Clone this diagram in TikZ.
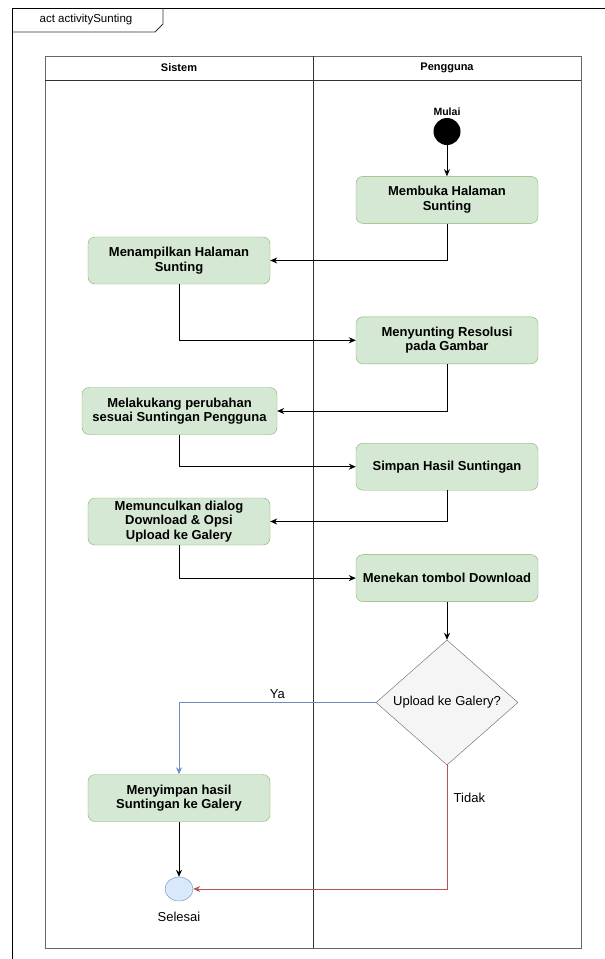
\documentclass[tikz,border=0pt]{standalone}
\usepackage{fontspec}
\setmainfont{Liberation Sans}
\usetikzlibrary{arrows.meta,positioning,shapes.geometric}
\definecolor{actgreen}{HTML}{D5E8D4}
\definecolor{actline}{HTML}{82B366}
\definecolor{endblue}{HTML}{DAE8FC}
\definecolor{yaline}{HTML}{6C8EBF}
\definecolor{tidakline}{HTML}{B85450}
\definecolor{decfill}{HTML}{F5F5F5}
\definecolor{decline}{HTML}{666666}
\definecolor{laneline}{HTML}{333333}
\definecolor{laneedge}{HTML}{666666}

\begin{document}
\begin{tikzpicture}[
  x=1pt,y=-1pt,
  every node/.style={font=\fontsize{13}{14.5}\selectfont,align=center},
  act/.style={draw=actline,fill=actgreen,rounded corners=7pt,minimum width=182pt,minimum height=47pt,inner sep=2pt,font=\fontsize{13}{14.5}\selectfont\bfseries},
  dec/.style={diamond,draw=decline,fill=decfill,minimum width=142pt,minimum height=125pt,inner sep=0pt},
  flow/.style={-{Stealth[length=7pt,width=6pt]},line width=0.8pt},
  lane/.style={draw=laneline,line width=0.8pt}
]
\useasboundingbox (0,0) rectangle (605,959);
\fill[white] (0,0) rectangle (605,959);
\clip (0,0) rectangle (605,959);

% frame and lanes
\draw[lane,draw=black] (12,970) -- (12,8) -- (620,8);
\draw[lane] (12,32) -- (155,32) -- (163,24) -- (163,8);
\node[font=\fontsize{11.5}{13}\selectfont] (judul) at (86,20) {act activitySunting};
\draw[lane,draw=laneedge,line width=1pt] (45,56) rectangle (581,948);
\draw[lane] (45,80) -- (581,80);
\draw[lane] (313,56) -- (313,948);
\node[font=\fontsize{11}{13}\selectfont\bfseries] (sistem) at (179,68) {Sistem};
\node[font=\fontsize{11}{13}\selectfont\bfseries] (pengguna) at (447,68) {Pengguna};

% pengguna
\node[circle,fill=black,minimum size=27pt,inner sep=0pt] (mulai) at (447,131.5) {};
\node[font=\fontsize{10.5}{12}\selectfont\bfseries,inner sep=1pt,above=1pt of mulai] (mulaitxt) {Mulai};
\node[act,below=31pt of mulai] (buka) {Membuka Halaman\\Sunting};
\node[act,below=93pt of buka] (sunting) {Menyunting Resolusi\\pada Gambar};
\node[act,below=79pt of sunting] (simpan) {Simpan Hasil Suntingan};
\node[act,below=64pt of simpan] (tekan) {Menekan tombol Download};
\node[dec,below=38pt of tekan] (tanya) {Upload ke Galery?};

% sistem
\node[act] (tampil) at (179,260.5) {Menampilkan Halaman\\Sunting};
\node[act,minimum width=195pt] (ubah) at (179.5,411) {Melakukang perubahan\\sesuai Suntingan Pengguna};
\node[act] (dialog) at (179,521.5) {Memunculkan dialog\\Download \& Opsi\\Upload ke Galery};
\node[act] (galeri) at (179,798) {Menyimpan hasil\\Suntingan ke Galery};
\node[ellipse,draw=yaline,fill=endblue,minimum width=28pt,minimum height=24pt,inner sep=0pt] (selesai) at (179,889) {};
\node[below=7pt of selesai] (selesaitxt) {Selesai};

% alur
\draw[flow] (mulai) -- (buka);
\draw[flow] (buka.south) |- (tampil.east);
\draw[flow] (tampil.south) |- (sunting.west);
\draw[flow] (sunting.south) |- (ubah.east);
\draw[flow] (ubah.south) |- (simpan.west);
\draw[flow] (simpan.south) |- (dialog.east);
\draw[flow] (dialog.south) |- (tekan.west);
\draw[flow] (tekan) -- (tanya);
\draw[flow,color=yaline] (tanya.west) -| node[pos=0.25,above,text=black] {Ya} (galeri.north);
\draw[flow] (galeri) -- (selesai);
\draw[flow,color=tidakline] (tanya.south) |- node[pos=0.13,right,xshift=3pt,text=black] {Tidak} (selesai.east);
\end{tikzpicture}
\end{document}
